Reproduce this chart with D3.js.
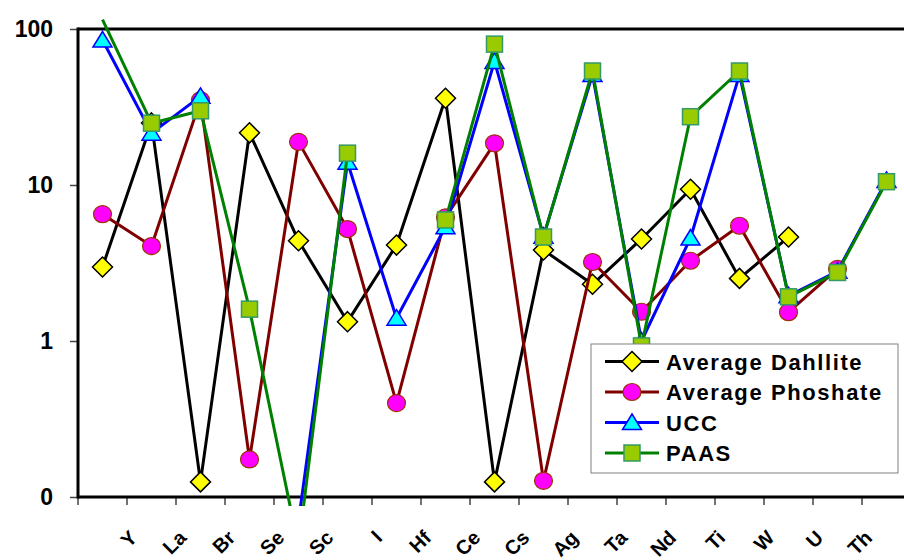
<!DOCTYPE html>
<html><head><meta charset="utf-8">
<script src="https://cdn.jsdelivr.net/npm/d3@7"></script>
<style>
html,body{margin:0;padding:0;background:#fff;}
svg{display:block;font-family:"Liberation Sans",Arial,Helvetica,sans-serif;font-weight:bold;}
</style></head>
<body><svg id="c" width="904" height="560"></svg>
<script>
const categories = ["", "Y","La","Br","Se","Sc","I","Hf","Ce","Cs","Ag","Ta","Nd","Ti","W","U","Th"];
const dahllite  = [2.98, 25, 0.125, 21.6, 4.39, 1.33, 4.12, 36, 0.125, 3.83, 2.31, 4.51, 9.39, 2.52, 4.64, null, null];
const phosphate = [6.5, 4.06, 35, 0.174, 18.9, 5.22, 0.40, 6.2, 18.5, 0.127, 3.21, 1.54, 3.27, 5.48, 1.53, 2.9, null];
const ucc       = [85, 21.5, 37, null, 0.07, 14.0, 1.40, 5.4, 62, 4.7, 51, 1.0, 4.57, 51, 1.95, 2.8, 10.7];
const paas      = [115, 24.9, 29.9, 1.60, 0.048, 16.0, null, 5.97, 80, 4.64, 53.8, 0.93, 27.4, 53.8, 1.92, 2.75, 10.5];
const yTickValues = [0.1, 1, 10, 100];
const yTickLabels = ["0", "1", "10", "100"];
const seriesNames = ["Average Dahllite", "Average Phoshate", "UCC", "PAAS"];

const svg = d3.select("#c");
const L = 78, R = 911, T = 29, B = 497;
const x = d3.scaleBand().domain(d3.range(categories.length)).range([L, R]).padding(0);
const bw = x.bandwidth();
const cx = i => x(i) + bw / 2;
const y = d3.scaleLog().domain([0.1, 100]).range([B, T]);

const series = [
  {name: seriesNames[0], data: dahllite, line: "#000000", shape: "diamond", fill: "#ffff00", stroke: "#000000"},
  {name: seriesNames[1], data: phosphate, line: "#800000", shape: "circle", fill: "#ff00ff", stroke: "#993300"},
  {name: seriesNames[2], data: ucc, line: "#0000ff", shape: "triangle", fill: "#00ffff", stroke: "#0000ff"},
  {name: seriesNames[3], data: paas, line: "#008000", shape: "square", fill: "#99cc00", stroke: "#339966"}
];

function drawMarker(g, shape, fill, stroke) {
  if (shape === "diamond") {
    g.append("path").attr("d", "M0,-10L10,0L0,10L-10,0Z").attr("fill", fill).attr("stroke", stroke).attr("stroke-width", 1.5);
  } else if (shape === "circle") {
    g.append("ellipse").attr("rx", 9).attr("ry", 8.5).attr("fill", fill).attr("stroke", stroke).attr("stroke-width", 1.2);
  } else if (shape === "triangle") {
    g.append("path").attr("d", "M0,-8.5L9.5,7L-9.5,7Z").attr("fill", fill).attr("stroke", stroke).attr("stroke-width", 1.5);
  } else {
    g.append("rect").attr("x", -8).attr("y", -8).attr("width", 16).attr("height", 16).attr("fill", fill).attr("stroke", stroke).attr("stroke-width", 1.5);
  }
}

svg.append("defs").append("clipPath").attr("id", "clipL")
  .append("rect").attr("x", 0).attr("y", 18).attr("width", 904).attr("height", 506 - 18);

// y axis
const yAxis = d3.axisLeft(y).tickValues(yTickValues).tickFormat((d, i) => yTickLabels[i]).tickSize(8).tickPadding(17);
const gy = svg.append("g").attr("transform", `translate(${L},0)`).call(yAxis);
gy.select(".domain").remove();
gy.selectAll(".tick line").attr("stroke", "#444").attr("stroke-width", 1.5);
gy.selectAll(".tick text").attr("font-size", 23).attr("font-weight", "bold").attr("fill", "#000")
  .attr("font-family", '"Liberation Sans",Arial,sans-serif');

// x axis
const xAxis = d3.axisBottom(x).tickFormat(i => categories[i]).tickSize(8).tickPadding(0);
const gx = svg.append("g").attr("transform", `translate(0,${B})`).call(xAxis);
gx.select(".domain").remove();
gx.selectAll(".tick line").attr("x1", -bw / 2).attr("x2", -bw / 2).attr("stroke", "#444").attr("stroke-width", 1.5);
gx.selectAll(".tick text").remove();
gx.selectAll(".tick").each(function(i) {
  d3.select(this).append("g")
    .attr("transform", "translate(-13,42) rotate(-45)")
    .append("text")
    .attr("x", 0).attr("y", 0)
    .attr("text-anchor", "end")
    .style("font-size", "20px").style("font-weight", "bold").attr("fill", "#000")
    .text(categories[i]);
});

// frame
svg.append("line").attr("x1", L).attr("x2", 904).attr("y1", T).attr("y2", T).attr("stroke", "#000").attr("stroke-width", 3);
svg.append("line").attr("x1", L).attr("x2", 904).attr("y1", B).attr("y2", B).attr("stroke", "#000").attr("stroke-width", 3);
svg.append("line").attr("x1", L).attr("x2", L).attr("y1", T - 1.5).attr("y2", B + 1.5).attr("stroke", "#000").attr("stroke-width", 3);

// series
const line = d3.line().defined(d => d.v != null).x(d => cx(d.i)).y(d => y(d.v));
series.forEach(s => {
  const pts = s.data.map((v, i) => ({i, v}));
  const g = svg.append("g");
  g.append("path").attr("d", line(pts)).attr("fill", "none").attr("stroke", s.line)
    .attr("stroke-width", 3).attr("stroke-linejoin", "round").attr("clip-path", "url(#clipL)");
  pts.filter(d => d.v != null && d.v >= 0.1 && d.v <= 100).forEach(d => {
    const m = g.append("g").attr("transform", `translate(${cx(d.i)},${y(d.v)})`);
    drawMarker(m, s.shape, s.fill, s.stroke);
  });
});

// legend
const lg = svg.append("g");
lg.append("rect").attr("x", 591).attr("y", 344).attr("width", 307).attr("height", 129)
  .attr("fill", "#fff").attr("stroke", "#808080").attr("stroke-width", 1);
const rowY = [361.5, 392, 422.5, 453];
series.forEach((s, k) => {
  const yy = rowY[k];
  lg.append("line").attr("x1", 605).attr("x2", 659).attr("y1", yy).attr("y2", yy).attr("stroke", s.line).attr("stroke-width", 3);
  const m = lg.append("g").attr("transform", `translate(632,${yy})`);
  drawMarker(m, s.shape, s.fill, s.stroke);
  lg.append("text").attr("x", 666).attr("y", yy + 8).attr("font-size", 22).attr("letter-spacing", 1.6)
    .attr("fill", "#000").text(s.name);
});
</script></body></html>
